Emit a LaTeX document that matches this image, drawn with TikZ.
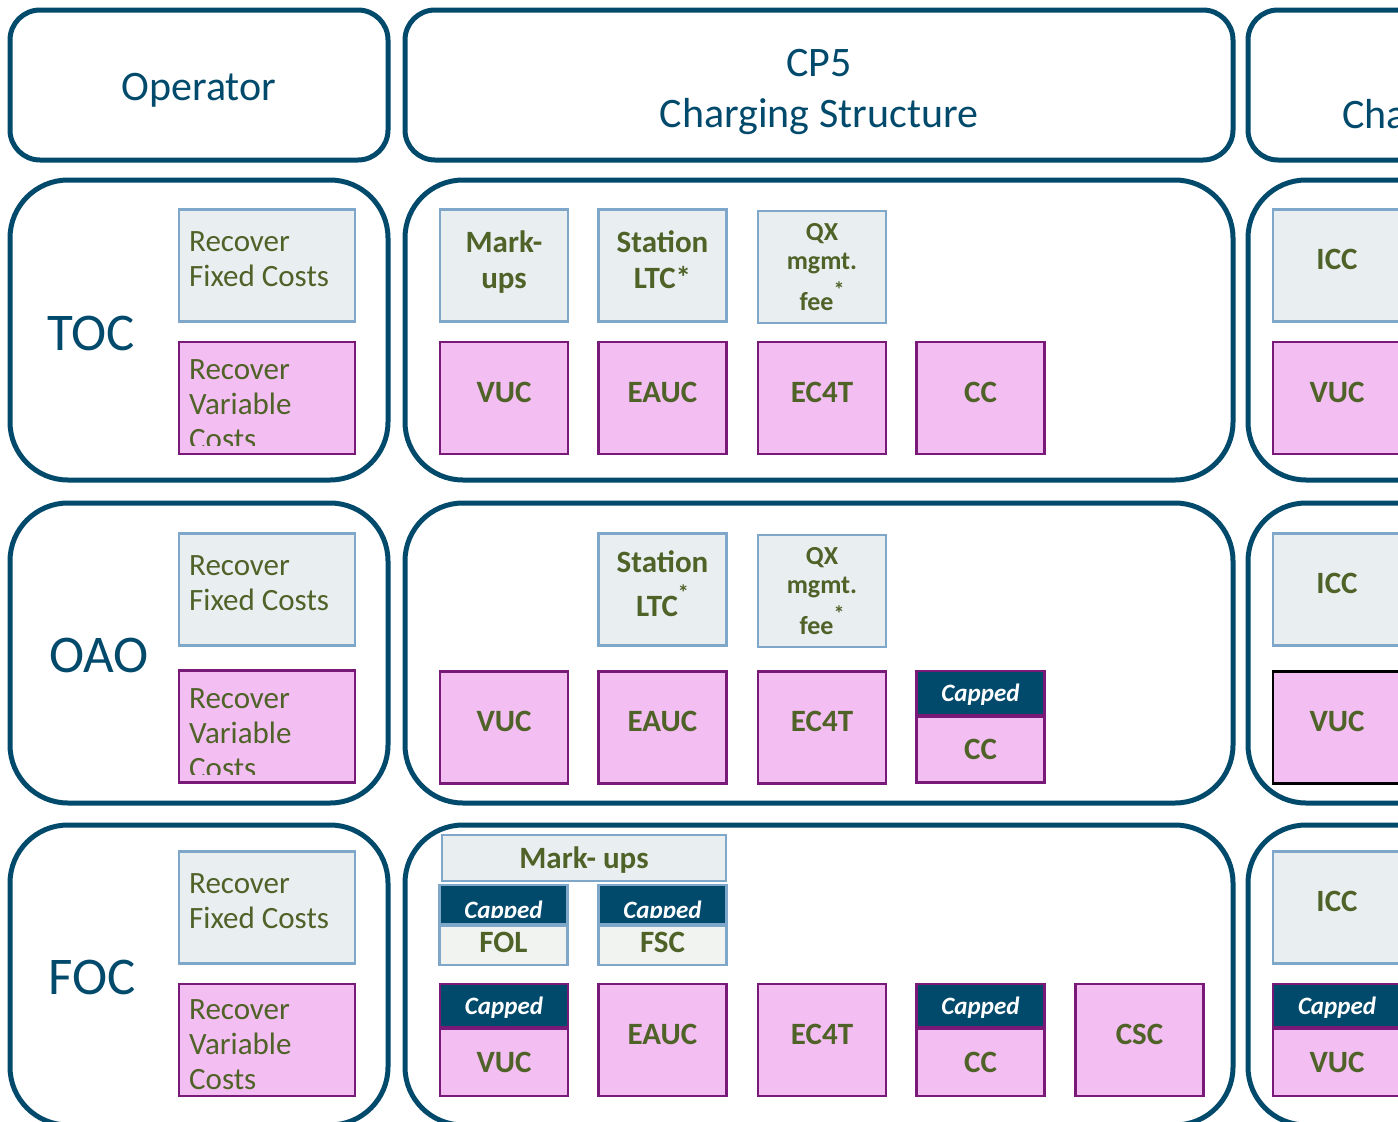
\documentclass[tikz,border=0pt]{standalone}
\usepackage{fontspec}
\setmainfont{Carlito}
\usepackage{tikz}
\usetikzlibrary{positioning}

\definecolor{navy}{HTML}{024A6C}
\definecolor{olive}{HTML}{4F6228}
\definecolor{fixfill}{HTML}{E9EEF1}
\definecolor{fixline}{HTML}{7FA7C9}
\definecolor{varfill}{HTML}{F3BEF1}
\definecolor{varline}{HTML}{7A1A78}
\definecolor{palefill}{HTML}{F1F3F1}

\begin{document}
\begin{tikzpicture}[x=1pt, y=-1pt]
			\tikzstyle{Head}	= [draw=navy, line width=5pt, rounded corners=30pt, inner sep=0pt, minimum height=150pt]
			\tikzstyle{Frame}	= [draw=navy, line width=5pt, rounded corners=58pt, inner sep=0pt, minimum height=300pt]
			\tikzstyle{Box}		= [line width=2.5pt, inner sep=0pt, minimum width=128pt, minimum height=112pt, align=center, text depth=12pt, text=olive, font=\bfseries\fontsize{31}{36}\selectfont]
			\tikzstyle{Fixed}	= [Box, draw=fixline, fill=fixfill]
			\tikzstyle{Var}		= [Box, draw=varline, fill=varfill]
			\tikzstyle{Band}	= [Box, fill=navy, text=white, text depth=0pt, font=\bfseries\itshape\fontsize{25}{30}\selectfont]
			\tikzstyle{Small}	= [text depth=0pt, font=\bfseries\fontsize{26}{29}\selectfont]
			\tikzstyle{Cost}	= [anchor=west, align=left, inner sep=0pt, text=olive, font=\fontsize{31}{35}\selectfont]
			\tikzstyle{Op}		= [anchor=west, inner sep=0pt, text=navy, font=\fontsize{53}{60}\selectfont]
			\tikzstyle{Title}	= [inner sep=0pt, align=center, text=navy, font=\fontsize{42}{51}\selectfont]
			\newcommand{\supstar}{\raisebox{0.5em}{\fontsize{22}{22}\selectfont *}}

			\useasboundingbox (0,0) rectangle (1398,1122);
			\clip (0,0) rectangle (1398,1122);

			% headers
			\node (hOp) at (199,85) [Head, minimum width=378pt] {};
			\node (hCP) at (819,85) [Head, minimum width=828pt] {};
			\node (hNext) at (1448,85) [Head, minimum width=400pt] {};
			\node (tOp) at (199,90) [Title] {Operator};
			\node (tCP) at (819,92) [Title] {CP5\\Charging Structure};
			\node (tNext) at (1342,114) [Title, anchor=west] {Cha};

			% row frames
			\node (fTOC) at (199,330) [Frame, minimum width=378pt] {};
			\node (mTOC) at (819,330) [Frame, minimum width=828pt] {};
			\node (rTOC) at (1448,330) [Frame, minimum width=400pt] {};
			\node (fOAO) at (199,653) [Frame, minimum width=378pt] {};
			\node (mOAO) at (819,653) [Frame, minimum width=828pt] {};
			\node (rOAO) at (1448,653) [Frame, minimum width=400pt] {};
			\node (fFOC) at (199,975) [Frame, minimum width=378pt] {};
			\node (mFOC) at (819,975) [Frame, minimum width=828pt] {};
			\node (rFOC) at (1448,975) [Frame, minimum width=400pt] {};

			% operators
			\node (lTOC) at (47,333) [Op] {TOC};
			\node (lOAO) at (49,655) [Op] {OAO};
			\node (lFOC) at (48,977) [Op] {FOC};

			\node (fixTOC) at (267,265.5) [Fixed, minimum width=176pt] {};
			\node (varTOC) at (267,398) [Var, minimum width=176pt] {};
			\node (fixOAO) at (267,589.5) [Fixed, minimum width=176pt] {};
			\node (varOAO) at (267,726.5) [Var, minimum width=176pt] {};
			\node (fixFOC) at (267,907.5) [Fixed, minimum width=176pt] {};
			\node (varFOC) at (267,1040) [Var, minimum width=176pt] {};

			\node (cfTOC) at (189,259) [Cost] {Recover\\Fixed Costs};
			\node (cfOAO) at (189,583) [Cost] {Recover\\Fixed Costs};
			\node (cfFOC) at (189,901) [Cost] {Recover\\Fixed Costs};
			\begin{scope}
				\clip (180,343) rectangle (354,445);
				\node (cvTOC) at (189,405) [Cost] {Recover\\Variable\\Costs};
			\end{scope}
			\begin{scope}
				\clip (180,672) rectangle (354,774);
				\node (cvOAO) at (189,734) [Cost] {Recover\\Variable\\Costs};
			\end{scope}
			\node (cvFOC) at (189,1045) [Cost] {Recover\\Variable\\Costs};

			% TOC charges
			\node (tMark) at (504,265.5) [Fixed] {Mark-\\ups};
			\node (tLTC) at (662.5,265.5) [Fixed] {Station\\LTC*};
			\node (tQX) at (822,267) [Fixed, Small] {QX\\mgmt.\\[6pt]fee\supstar};
			\node (tVUC) at (504,398) [Var] {VUC};
			\node (tEAUC) at (662.5,398) [Var] {EAUC};
			\node (tEC4T) at (822,398) [Var] {EC4T};
			\node (tCC) at (980.5,398) [Var] {CC};
			\node (tICC) at (1337,265.5) [Fixed] {ICC};
			\node (tVUC2) at (1337,398) [Var] {VUC};

			% OAO charges
			\node (oLTC) at (662.5,589.5) [Fixed] {Station\\[8pt]LTC\supstar};
			\node (oQX) at (822,591) [Fixed, Small] {QX\\mgmt.\\[6pt]fee\supstar};
			\node (oVUC) at (504,727.5) [Var] {VUC};
			\node (oEAUC) at (662.5,727.5) [Var] {EAUC};
			\node (oEC4T) at (822,727.5) [Var] {EC4T};
			\node (oCCcap) at (980.5,693) [Band, draw=varline, minimum height=44pt] {Capped};
			\node (oCC) at (980.5,749.5) [Var, minimum height=66pt, text depth=0pt] {CC};
			\node (oICC) at (1337,589.5) [Fixed] {ICC};
			\node (oVUC2) at (1337,727.5) [Var, draw=black] {VUC};

			% FOC charges
			\node (fMark) at (584,858) [Fixed, minimum width=284pt, minimum height=46pt, text depth=0pt] {Mark- ups};
			\node (fFOLcap) at (503.5,904.5) [Band, draw=fixline, minimum height=39pt] {};
			\node (fFSCcap) at (662.5,904.5) [Band, draw=fixline, minimum height=39pt] {};
			\begin{scope}
				\clip (430,880) rectangle (740,917);
				\node (fFOLtxt) at (503.5,910) [Band, draw=none, fill=none] {Capped};
				\node (fFSCtxt) at (662.5,910) [Band, draw=none, fill=none] {Capped};
			\end{scope}
			\node (fFOL) at (503.5,945.5) [Fixed, fill=palefill, minimum height=39pt, text depth=6pt] {FOL};
			\node (fFSC) at (662.5,945.5) [Fixed, fill=palefill, minimum height=39pt, text depth=6pt] {FSC};
			\node (fVUCcap) at (504,1005.5) [Band, draw=varline, minimum height=43pt] {Capped};
			\node (fVUC) at (504,1062.5) [Var, minimum height=67pt, text depth=0pt] {VUC};
			\node (fEAUC) at (662.5,1040) [Var] {EAUC};
			\node (fEC4T) at (822,1040) [Var] {EC4T};
			\node (fCCcap) at (980.5,1005.5) [Band, draw=varline, minimum height=43pt] {Capped};
			\node (fCC) at (980.5,1062.5) [Var, minimum height=67pt, text depth=0pt] {CC};
			\node (fCSC) at (1139.5,1040) [Var] {CSC};
			\node (fICC) at (1337,907.5) [Fixed] {ICC};
			\node (fVUCcap2) at (1337,1005.5) [Band, draw=varline, minimum height=43pt] {Capped};
			\node (fVUC2) at (1337,1062.5) [Var, minimum height=67pt, text depth=0pt] {VUC};
\end{tikzpicture}
\end{document}
